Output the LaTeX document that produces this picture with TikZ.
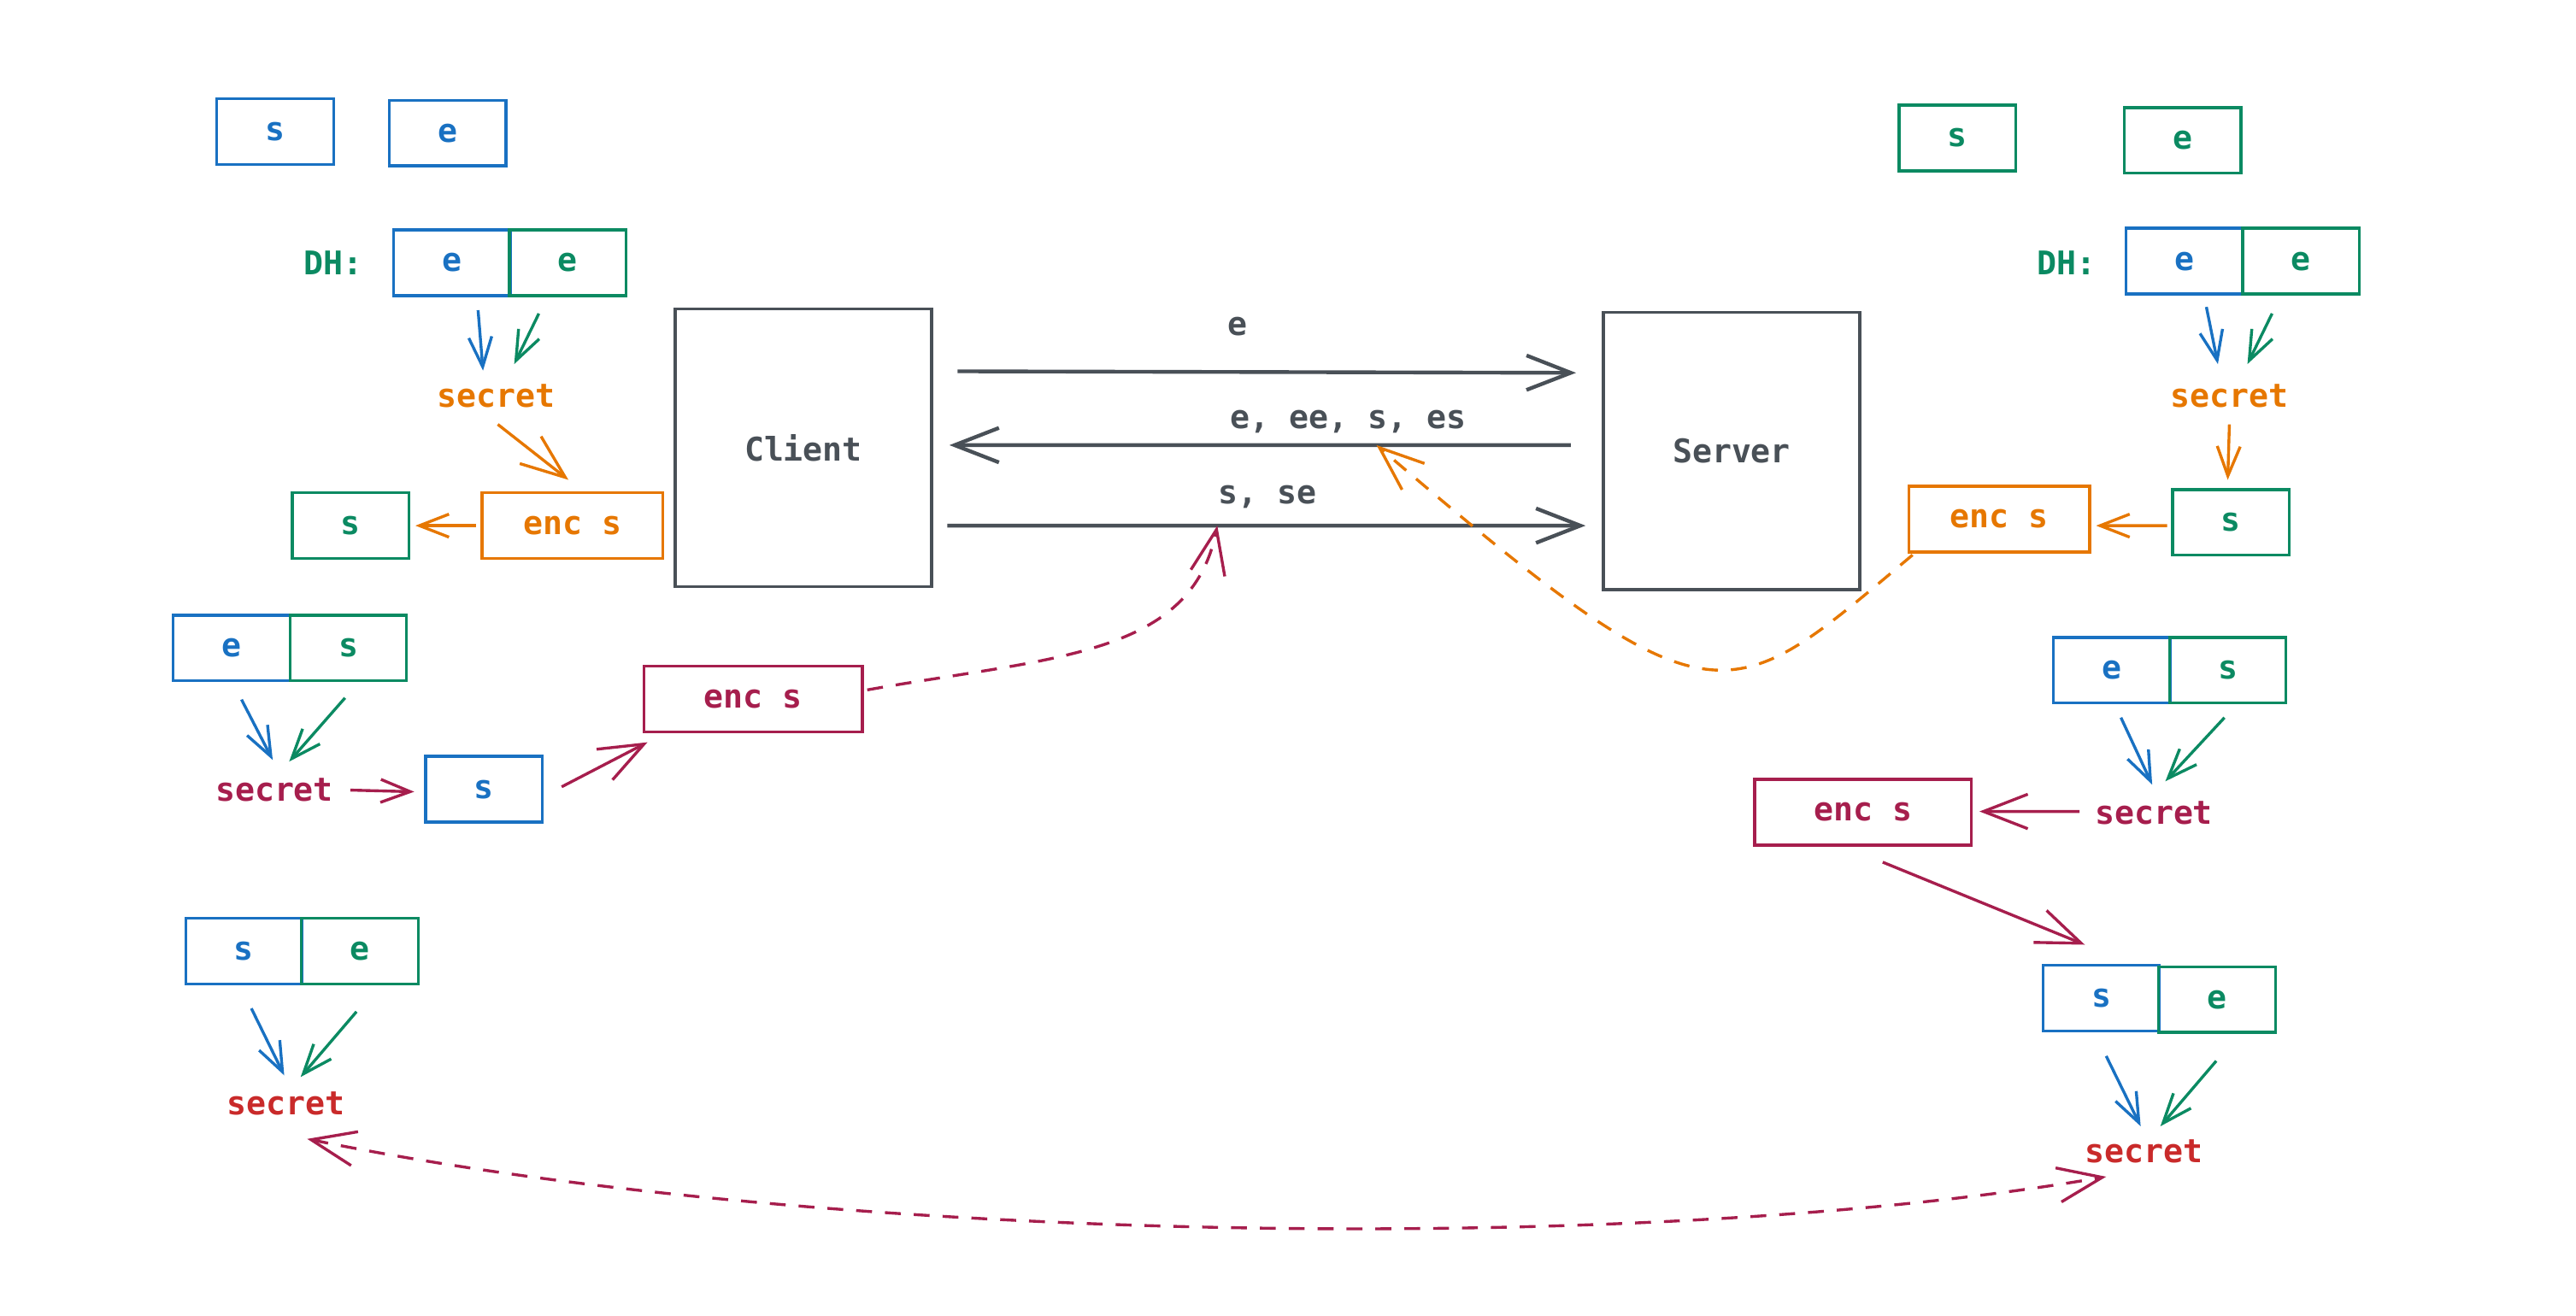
\documentclass[tikz,border=0pt]{standalone}
\usepackage{fontspec}
\setmonofont{DejaVu Sans Mono}
\usetikzlibrary{arrows.meta}
\definecolor{kblue}{HTML}{1971C2}
\definecolor{kgreen}{HTML}{0B8A62}
\definecolor{korange}{HTML}{E67700}
\definecolor{kcrimson}{HTML}{A61E4D}
\definecolor{kred}{HTML}{C92A2A}
\definecolor{kgray}{HTML}{495057}
\tikzset{
every node/.style={font=\ttfamily\bfseries\fontsize{11.3}{13}\selectfont},
box/.style={ % Sets the properties for each key box
draw=#1, text=#1, line width=1pt,
minimum width=1.42cm, minimum height=0.8cm, inner sep=0pt},
encbox/.style={box=#1, minimum width=2.2cm}, % Encrypted key
party/.style={draw=kgray, text=kgray, line width=1pt,
minimum width=3.12cm, minimum height=3.38cm},
word/.style={text=#1, inner sep=0pt, minimum height=0.5cm}, % Free text
msglbl/.style={text=kgray, inner sep=0pt, text height=1.6ex, text depth=.4ex},
arr/.style={draw=#1, line width=1pt, -{Straight Barb[length=3.6mm,width=2.8mm]}},
bigarr/.style={draw=#1, line width=1pt, -{Straight Barb[length=5.4mm,width=4.2mm]}},
msg/.style={bigarr=kgray, line width=1.3pt}, % Handshake messages
dashline/.style={dash pattern=on 5.5pt off 4.5pt}}

\begin{document}
\begin{tikzpicture}
\useasboundingbox (0,0) rectangle (31.36,-16.02);

% client keys
\node[box=kblue] (cs) at (3.35,-1.60) {s};
\node[box=kblue] (ce) at (5.45,-1.62) {e};
\node[word=kgreen] (cdh) at (4.06,-3.20) {DH:};
\node[box=kblue] (cdhe1) at (5.50,-3.20) {e};
\node[box=kgreen] (cdhe2) at (6.91,-3.20) {e};
\node[word=korange] (csec1) at (6.04,-4.82) {secret};
\node[encbox=korange] (cenc1) at (6.97,-6.40) {enc s};
\node[box=kgreen] (cs2) at (4.27,-6.40) {s};
\node[box=kblue] (ce3) at (2.82,-7.89) {e};
\node[box=kgreen] (cs3) at (4.24,-7.89) {s};
\node[word=kcrimson] (csec2) at (3.34,-9.62) {secret};
\node[box=kblue] (cs4) at (5.89,-9.61) {s};
\node[encbox=kcrimson, minimum width=2.66cm] (cenc2) at (9.17,-8.51) {enc s};
\node[box=kblue] (cs5) at (2.97,-11.58) {s};
\node[box=kgreen] (ce5) at (4.38,-11.58) {e};
\node[word=kred] (csec3) at (3.48,-13.44) {secret};

% the two parties
\node[party] (client) at (9.78,-5.45) {Client};
\node[party] (server) at (21.08,-5.49) {Server};

% server keys
\node[box=kgreen] (ss) at (23.83,-1.68) {s};
\node[box=kgreen] (se) at (26.57,-1.71) {e};
\node[word=kgreen] (sdh) at (25.16,-3.20) {DH:};
\node[box=kblue] (sdhe1) at (26.59,-3.18) {e};
\node[box=kgreen] (sdhe2) at (28.01,-3.18) {e};
\node[word=korange] (ssec1) at (27.14,-4.82) {secret};
\node[box=kgreen] (ss2) at (27.16,-6.36) {s};
\node[encbox=korange] (senc1) at (24.34,-6.32) {enc s};
\node[box=kblue] (se3) at (25.71,-8.16) {e};
\node[box=kgreen] (ss3) at (27.12,-8.16) {s};
\node[word=kcrimson] (ssec2) at (26.22,-9.90) {secret};
\node[encbox=kcrimson, minimum width=2.64cm] (senc2) at (22.68,-9.89) {enc s};
\node[box=kblue] (ss4) at (25.58,-12.15) {s};
\node[box=kgreen] (se4) at (26.99,-12.17) {e};
\node[word=kred] (ssec3) at (26.10,-14.02) {secret};

% messages
\draw[msg, shorten <=8.5pt, shorten >=9pt] ([yshift=9.3mm]client.east)
  -- node[msglbl, pos=.455, above=3.6mm] (m1) {e} ([yshift=9.5mm]server.west);
\draw[msg, shorten <=10.8pt, shorten >=5.7pt] ([yshift=0.7mm]server.west)
  -- coordinate[pos=.337] (hit2) node[msglbl, pos=.379, above=1.2mm] (m2) {e, ee, s, es}
  ([yshift=0.3mm]client.east);
\draw[msg, shorten <=5pt, shorten >=5.7pt] ([yshift=-9.5mm]client.east)
  -- coordinate[pos=.425] (hit1) node[msglbl, pos=.5, above=1.8mm] (m3) {s, se}
  ([yshift=-9.1mm]server.west);

% client side
\draw[arr=kblue] ([shift={(0.32,-0.16)}]cdhe1.south) -- ([shift={(-0.16,0.05)}]csec1.north);
\draw[arr=kgreen] ([shift={(-0.35,-0.20)}]cdhe2.south) -- ([shift={(0.22,0.13)}]csec1.north);
\draw[bigarr=korange] ([shift={(0.02,-0.09)}]csec1.south) -- ([shift={(-0.05,0.14)}]cenc1.north);
\draw[arr=korange] ([xshift=-0.06cm]cenc1.west) -- ([xshift=0.06cm]cs2.east);
\draw[arr=kblue] ([shift={(0.12,-0.21)}]ce3.south) -- ([shift={(-0.02,0.11)}]csec2.north);
\draw[arr=kgreen] ([shift={(-0.04,-0.19)}]cs3.south) -- ([shift={(0.18,0.09)}]csec2.north);
\draw[arr=kcrimson] ([xshift=0.20cm]csec2.east) -- ([shift={(-0.12,-0.03)}]cs4.west);
\draw[bigarr=kcrimson] ([shift={(0.22,0.03)}]cs4.east) -- ([shift={(0.06,-0.11)}]cenc2.south west);
\draw[bigarr=kcrimson, dashline] ([shift={(0.04,0.11)}]cenc2.east)
  .. controls (12.8,-8.0) and (14.5,-8.0) .. (hit1);
\draw[arr=kblue] ([shift={(0.09,-0.28)}]cs5.south) -- ([shift={(-0.02,0.09)}]csec3.north);
\draw[arr=kgreen] ([shift={(-0.04,-0.32)}]ce5.south) -- ([shift={(0.18,0.07)}]csec3.north);

% server side
\draw[arr=kblue] ([shift={(0.27,-0.14)}]sdhe1.south) -- ([shift={(-0.14,0.13)}]ssec1.north);
\draw[arr=kgreen] ([shift={(-0.35,-0.22)}]sdhe2.south) -- ([shift={(0.22,0.13)}]ssec1.north);
\draw[arr=korange] ([yshift=-0.09cm]ssec1.south) -- ([shift={(-0.04,0.10)}]ss2.north);
\draw[arr=korange] ([shift={(-0.05,-0.04)}]ss2.west) -- ([shift={(0.06,-0.08)}]senc1.east);
\draw[bigarr=korange, dashline] ([shift={(0.06,-0.02)}]senc1.south west)
  .. controls (21.0,-8.67) and (20.91,-8.97) .. (hit2);
\draw[arr=kblue] ([shift={(0.11,-0.16)}]se3.south) -- ([shift={(-0.02,0.09)}]ssec2.north);
\draw[arr=kgreen] ([shift={(-0.04,-0.16)}]ss3.south) -- ([shift={(0.14,0.13)}]ssec2.north);
\draw[bigarr=kcrimson] ([shift={(-0.18,0.02)}]ssec2.west) -- ([shift={(0.08,0.01)}]senc2.east);
\draw[bigarr=kcrimson] ([shift={(0.24,-0.19)}]senc2.south) -- ([shift={(-0.20,0.23)}]ss4.north);
\draw[arr=kblue] ([shift={(0.06,-0.29)}]ss4.south) -- ([shift={(-0.04,0.05)}]ssec3.north);
\draw[arr=kgreen] ([shift={(-0.01,-0.33)}]se4.south) -- ([shift={(0.20,0.05)}]ssec3.north);

% both sides now share the secret
\draw[draw=kcrimson, line width=1pt, dashline,
  {Straight Barb[length=5.4mm,width=4.2mm]}-{Straight Barb[length=5.4mm,width=4.2mm]}]
  ([shift={(0.26,-0.17)}]csec3.south) .. controls (10,-15.15) and (20,-15.3)
  .. ([shift={(-0.46,-0.05)}]ssec3.south);
\end{tikzpicture}
\end{document}
